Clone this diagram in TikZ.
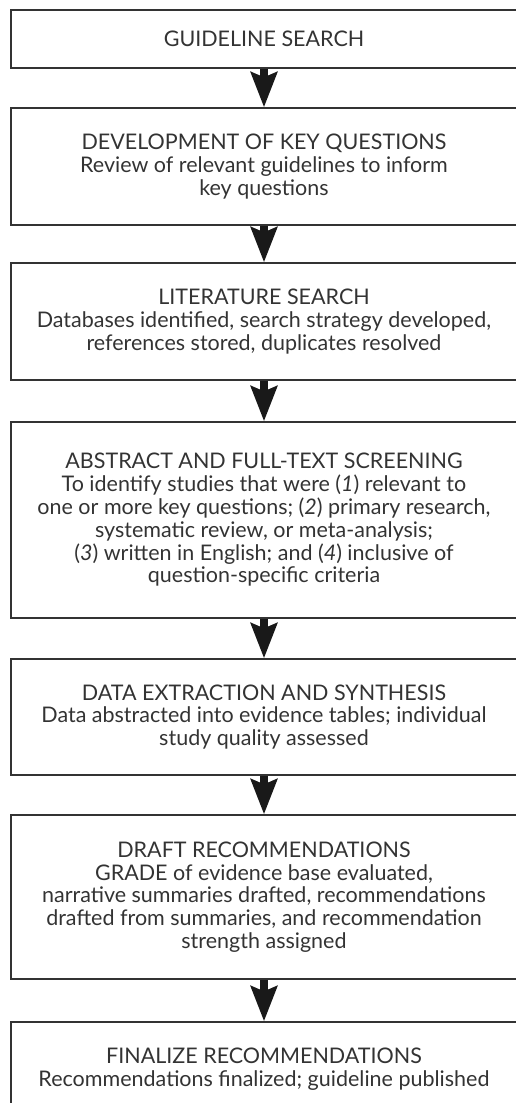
\documentclass[tikz,border=0pt]{standalone}
\usepackage{fontspec}
\setmainfont{Lato}
\usetikzlibrary{arrows.meta}
\begin{document}
\begin{tikzpicture} [x=1pt,y=-1pt,font=\fontsize{21.5}{22.8}\selectfont,
		stepbox/.style={draw=black!80,line width=1.3pt,rectangle,minimum width=506pt,align=center,text=black!80,inner sep=0pt},
		flow/.style={draw=black!90,line width=8pt,-{Stealth[length=35pt,width=26pt,inset=5pt,fill=black!90]}}]
		\useasboundingbox (0,0) rectangle (515,1103);
		\node [stepbox,minimum height=58pt] (guide) at (264,39) {GUIDELINE SEARCH};
		\node [stepbox,minimum height=117pt] (keyq) at (264,166.5) {DEVELOPMENT OF KEY QUESTIONS\\Review of relevant guidelines to inform\\key questions};
		\node [stepbox,minimum height=117pt] (lit) at (264,321.5) {LITERATURE SEARCH\\Databases identified, search strategy developed,\\references stored, duplicates resolved};
		\node [stepbox,minimum height=196pt] (screen) at (264,520) {ABSTRACT AND FULL-TEXT SCREENING\\To identify studies that were (\textit{1}) relevant to\\one or more key questions; (\textit{2}) primary research,\\systematic review, or meta-analysis;\\(\textit{3}) written in English; and (\textit{4}) inclusive of\\question-specific criteria};
		\node [stepbox,minimum height=116pt] (data) at (264,717) {DATA EXTRACTION AND SYNTHESIS\\Data abstracted into evidence tables; individual\\study quality assessed};
		\node [stepbox,minimum height=164pt] (draft) at (264,897) {DRAFT RECOMMENDATIONS\\GRADE of evidence base evaluated,\\narrative summaries drafted, recommendations\\drafted from summaries, and recommendation\\strength assigned};
		\node [stepbox,minimum height=94pt] (final) at (264,1069) {FINALIZE RECOMMENDATIONS\\Recommendations finalized; guideline published};
		\draw [flow] (guide.south) -- (keyq.north);
		\draw [flow] (keyq.south) -- (lit.north);
		\draw [flow] (lit.south) -- (screen.north);
		\draw [flow] (screen.south) -- (data.north);
		\draw [flow] (data.south) -- (draft.north);
		\draw [flow] (draft.south) -- (final.north);
	\end{tikzpicture}
\end{document}
